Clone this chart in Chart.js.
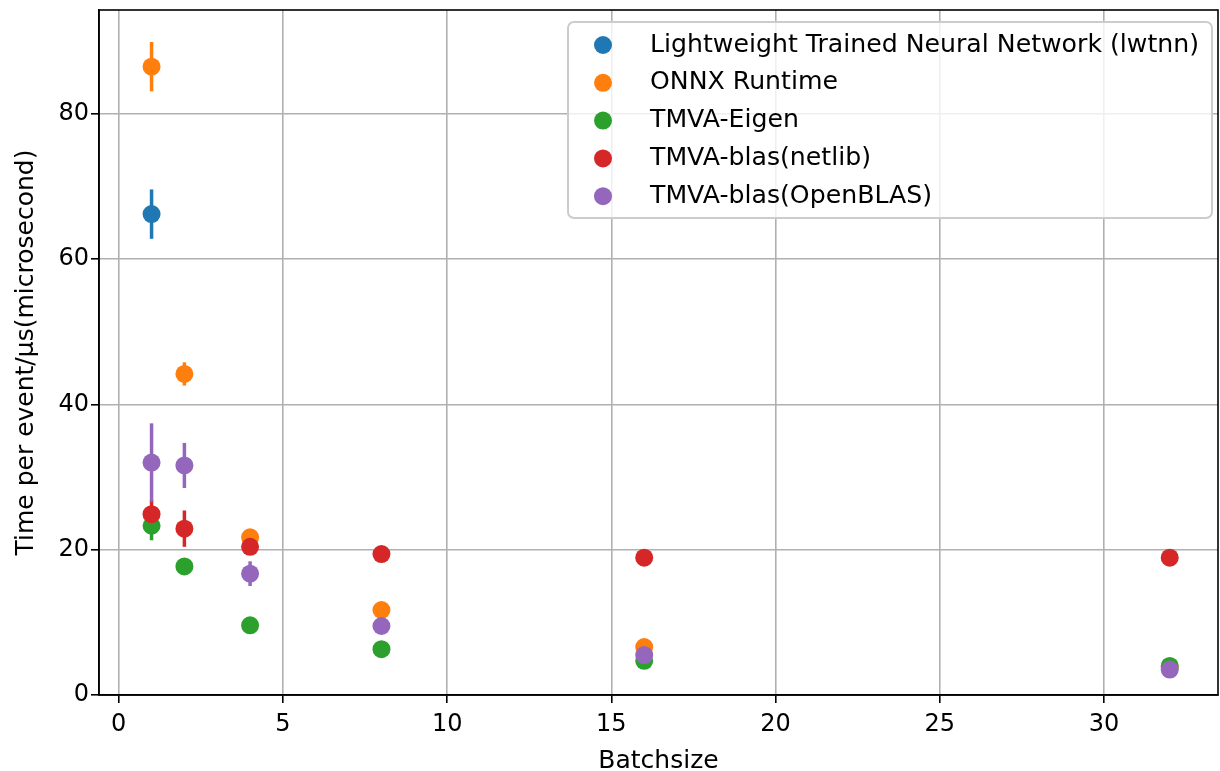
<!DOCTYPE html>
<html>
<head>
<meta charset="utf-8">
<script src="https://cdn.jsdelivr.net/npm/chart.js@4/dist/chart.umd.min.js"></script>
<style>
  html, body { margin: 0; padding: 0; background: #fff; }
  #wrap { width: 1220px; height: 771px; }
</style>
</head>
<body>
<div id="wrap"><canvas id="plot" width="1220" height="771"></canvas></div>
<script>
// values
let xTicks = [0, 5, 10, 15, 20, 25, 30]
let yTicks = [0, 20, 40, 60, 80]

let lwtnnBatch = [1]
let lwtnnTime = [66.2]
let lwtnnErr = [3.4]

let batch = [1, 2, 4, 8, 16, 32]
let onnxTime = [86.5, 44.2, 21.7, 11.7, 6.6, 3.8]
let onnxErr = [3.4, 1.6, 0.5, 0.4, 0.3, 0.2]
let eigenTime = [23.3, 17.7, 9.6, 6.3, 4.7, 4.0]
let eigenErr = [2.0, 0.3, 0.3, 0.2, 0.2, 0.1]
let netlibTime = [24.9, 22.9, 20.4, 19.4, 18.9, 18.9]
let netlibErr = [1.9, 2.5, 0.6, 0.3, 0.2, 0.2]
let openblasTime = [32.0, 31.6, 16.7, 9.5, 5.5, 3.5]
let openblasErr = [5.4, 3.1, 1.7, 0.4, 0.3, 0.2]

let labels = ["Lightweight Trained Neural Network (lwtnn)", "ONNX Runtime", "TMVA-Eigen",
              "TMVA-blas(netlib)", "TMVA-blas(OpenBLAS)"]
let colors = ["#1f77b4", "#ff7f0e", "#2ca02c", "#d62728", "#9467bd"]

const FONT = "'DejaVu Sans', sans-serif"

function pts(xs, ys, es) {
    return xs.map((x, i) => ({x: x, y: ys[i], err: es[i]}))
}

let series = [
    pts(lwtnnBatch, lwtnnTime, lwtnnErr),
    pts(batch, onnxTime, onnxErr),
    pts(batch, eigenTime, eigenErr),
    pts(batch, netlibTime, netlibErr),
    pts(batch, openblasTime, openblasErr)
]

let datasets = series.map((d, i) => ({
    label: labels[i],
    data: d,
    backgroundColor: colors[i],
    borderWidth: 0,
    pointRadius: 9,
    pointHoverRadius: 9,
    order: series.length - i   // later series on top, like matplotlib
}))

// vertical error bars, under all dots
let errorBars = {
    id: "errorBars",
    beforeDatasetsDraw(chart) {
        let ctx = chart.ctx, xs = chart.scales.x, ys = chart.scales.y
        ctx.save()
        ctx.lineWidth = 3.5
        chart.data.datasets.forEach((ds) => {
            ctx.strokeStyle = ds.backgroundColor
            for (let p of ds.data) {
                let px = xs.getPixelForValue(p.x)
                ctx.beginPath()
                ctx.moveTo(px, ys.getPixelForValue(p.y - p.err))
                ctx.lineTo(px, ys.getPixelForValue(p.y + p.err))
                ctx.stroke()
            }
        })
        ctx.restore()
    }
}

// frame + legend box in upper right
let frameLegend = {
    id: "frameLegend",
    afterDraw(chart) {
        let ctx = chart.ctx, a = chart.chartArea
        ctx.save()
        ctx.strokeStyle = "#000"
        ctx.lineWidth = 1.6
        ctx.strokeRect(a.left, a.top, a.right - a.left, a.bottom - a.top)

        let bw = 644, bh = 196
        let bx = a.right - 6 - bw, by = a.top + 12
        ctx.beginPath()
        ctx.roundRect(bx, by, bw, bh, 6)
        ctx.fillStyle = "rgba(255,255,255,0.8)"
        ctx.fill()
        ctx.strokeStyle = "#cccccc"
        ctx.lineWidth = 2
        ctx.stroke()

        ctx.font = "25.2px " + FONT
        ctx.textBaseline = "middle"
        chart.data.datasets.forEach((ds, i) => {
            let cy = by + 23 + i * 37.8
            ctx.beginPath()
            ctx.arc(bx + 35, cy, 9, 0, Math.PI * 2)
            ctx.fillStyle = ds.backgroundColor
            ctx.fill()
            ctx.fillStyle = "#000"
            ctx.fillText(ds.label, bx + 82, cy)
        })
        ctx.restore()
    }
}

let tickFont = {family: FONT, size: 24}

new Chart(document.getElementById("plot"), {
    type: "scatter",
    data: {datasets: datasets},
    options: {
        responsive: false,
        animation: false,
        layout: {autoPadding: false, padding: {top: 10, right: 2, left: 0, bottom: 0}},
        plugins: {legend: {display: false}, tooltip: {enabled: false}},
        scales: {
            x: {
                type: "linear",
                min: -0.6,
                max: 33.47,
                afterBuildTicks: (axis) => { axis.ticks = xTicks.map(v => ({value: v})) },
                afterFit: (axis) => {
                    axis.height = 76
                    axis.paddingLeft = 0
                    axis.paddingRight = 0
                },
                grid: {color: "#b0b0b0", lineWidth: 1.6, tickLength: 8, tickColor: "#000", tickWidth: 1.6},
                border: {color: "#000", width: 1.6},
                ticks: {color: "#000", font: tickFont, padding: 7, maxRotation: 0},
                title: {display: true, text: "Batchsize", color: "#000", font: {family: FONT, size: 25}, padding: {top: 0, bottom: -5}}
            },
            y: {
                type: "linear",
                min: 0,
                max: 94.3,
                afterBuildTicks: (axis) => { axis.ticks = yTicks.map(v => ({value: v})) },
                afterFit: (axis) => {
                    axis.width = 99
                    axis.paddingTop = 0
                    axis.paddingBottom = 0
                },
                grid: {color: "#b0b0b0", lineWidth: 1.6, tickLength: 8, tickColor: "#000", tickWidth: 1.6},
                border: {color: "#000", width: 1.6},
                ticks: {color: "#000", font: tickFont, padding: 2},
                title: {display: true, text: "Time per event/µs(microsecond)", color: "#000", font: {family: FONT, size: 25}, padding: {top: 11, bottom: 0}}
            }
        }
    },
    plugins: [errorBars, frameLegend]
});
</script>
</body>
</html>
